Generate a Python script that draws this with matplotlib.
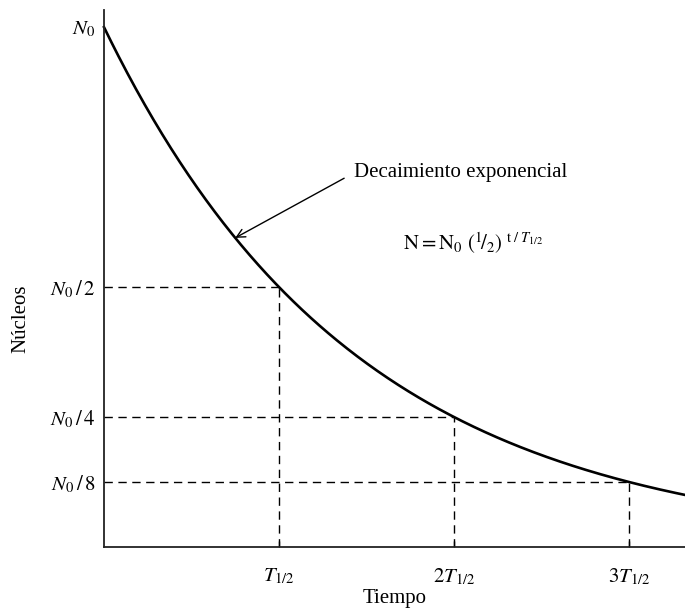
import numpy as np
import matplotlib.pyplot as plt

plt.rcParams["font.family"] = ["Liberation Serif", "DejaVu Serif"]
plt.rcParams["mathtext.fontset"] = "stix"

# half-life multiples and the fraction of nuclei left at each
half_lives = [1, 2, 3]
fractions = [0.5, 0.25, 0.125]
x_labels = [r"$T_{1/2}$", r"$2T_{1/2}$", r"$3T_{1/2}$"]
y_ticks = [1.0, 0.5, 0.25, 0.125]
y_labels = [r"$N_0$", r"$N_0\,/\,2$", r"$N_0\,/\,4$", r"$N_0\,/\,8$"]

t_max = 3.32
y_max = 1.033

fig = plt.figure(figsize=(6.85, 6.13), dpi=100)
ax = fig.add_axes([0.1518, 0.1077, 0.8482, 0.876])

# decay curve N = N0 (1/2)^(t/T)
t = np.linspace(0, t_max, 400)
ax.plot(t, 0.5 ** t, color="black", lw=1.9, clip_on=False)

# dashed guides to each half-life
for k, f in zip(half_lives, fractions):
    ax.plot([0, k], [f, f], color="black", lw=1.0, ls=(0, (6, 4)))
    ax.plot([k, k], [0, f], color="black", lw=1.0, ls=(0, (6, 4)))

ax.set_xlim(0, t_max)
ax.set_ylim(0, y_max)
ax.spines["top"].set_visible(False)
ax.spines["right"].set_visible(False)
for s in ["left", "bottom"]:
    ax.spines[s].set_linewidth(1.3)
    ax.spines[s].set_color("#222222")

ax.set_xticks(half_lives)
ax.set_xticklabels(x_labels, fontsize=15)
ax.tick_params(axis="x", direction="in", length=4, width=1, pad=14)
ax.set_yticks(y_ticks)
ax.set_yticklabels(y_labels, fontsize=15)
ax.tick_params(axis="y", length=0, pad=6)

ax.set_xlabel("Tiempo", fontsize=15, labelpad=1)
fig.text(0.03, 0.48, "Núcleos", rotation=90, fontsize=15, va="center", ha="center")

# annotation
t_arrow = 0.75
ax.annotate("Decaimiento exponencial", xy=(t_arrow, 0.5 ** t_arrow), xytext=(1.43, 0.72),
            fontsize=15, va="center", ha="left",
            arrowprops=dict(arrowstyle="->", color="black", lw=1.0, relpos=(0, 0.5),
                            shrinkA=6, shrinkB=0))
ax.text(1.71, 0.585, r"$\mathrm{N = N_0}\ (^{1}\!/_{2})\ ^{\mathrm{t}\;/\;T_{1/2}}$",
        fontsize=15, va="center", ha="left")

plt.savefig("out.png", dpi=100)
